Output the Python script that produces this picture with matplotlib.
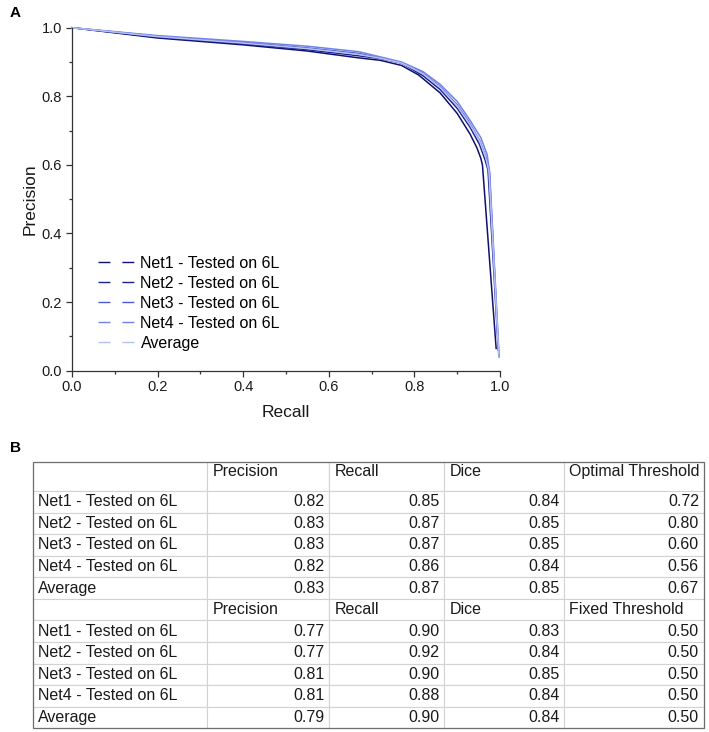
import matplotlib
matplotlib.use("Agg")
import matplotlib.pyplot as plt
from matplotlib.lines import Line2D
from matplotlib.patches import Rectangle
import numpy as np

plt.rcParams['font.family'] = ['Liberation Sans', 'DejaVu Sans']

W, H = 709, 732

# PR curves
series_names = ["Net1 - Tested on 6L", "Net2 - Tested on 6L", "Net3 - Tested on 6L",
                "Net4 - Tested on 6L", "Average"]
series_colors = ["#10106e", "#1a2290", "#4a5bd4", "#7282e6", "#b4bff2"]

recall_net1 = [0, 0.2, 0.4, 0.55, 0.67, 0.72, 0.77, 0.81, 0.86, 0.90, 0.93, 0.946, 0.955, 0.959, 0.991]
precision_net1 = [1.0, 0.970, 0.950, 0.932, 0.912, 0.905, 0.890, 0.862, 0.810, 0.750, 0.690, 0.650, 0.620, 0.600, 0.065]

recall_net2 = [0, 0.2, 0.4, 0.55, 0.67, 0.72, 0.77, 0.82, 0.86, 0.90, 0.93, 0.952, 0.965, 0.972, 0.996]
precision_net2 = [1.0, 0.972, 0.953, 0.936, 0.918, 0.910, 0.897, 0.860, 0.820, 0.765, 0.710, 0.660, 0.615, 0.585, 0.060]

recall_net3 = [0, 0.2, 0.4, 0.55, 0.67, 0.72, 0.77, 0.82, 0.86, 0.90, 0.93, 0.953, 0.968, 0.975, 0.997]
precision_net3 = [1.0, 0.975, 0.957, 0.941, 0.925, 0.912, 0.897, 0.868, 0.828, 0.775, 0.720, 0.670, 0.620, 0.585, 0.050]

recall_net4 = [0, 0.2, 0.4, 0.55, 0.67, 0.72, 0.77, 0.82, 0.86, 0.90, 0.93, 0.955, 0.970, 0.976, 0.998]
precision_net4 = [1.0, 0.977, 0.960, 0.946, 0.930, 0.915, 0.900, 0.872, 0.835, 0.785, 0.730, 0.680, 0.630, 0.575, 0.040]

recall_avg = [0, 0.2, 0.4, 0.55, 0.67, 0.72, 0.77, 0.82, 0.86, 0.90, 0.93, 0.953, 0.967, 0.974, 0.997]
precision_avg = [1.0, 0.974, 0.955, 0.939, 0.922, 0.911, 0.897, 0.866, 0.826, 0.772, 0.717, 0.668, 0.620, 0.582, 0.050]

recalls = [recall_net1, recall_net2, recall_net3, recall_net4, recall_avg]
precisions = [precision_net1, precision_net2, precision_net3, precision_net4, precision_avg]

# table B
row_names = ["Net1 - Tested on 6L", "Net2 - Tested on 6L", "Net3 - Tested on 6L",
             "Net4 - Tested on 6L", "Average"]
header_opt = ["", "Precision", "Recall", "Dice", "Optimal Threshold"]
header_fix = ["", "Precision", "Recall", "Dice", "Fixed Threshold"]
precision_opt = [0.82, 0.83, 0.83, 0.82, 0.83]
recall_opt = [0.85, 0.87, 0.87, 0.86, 0.87]
dice_opt = [0.84, 0.85, 0.85, 0.84, 0.85]
threshold_opt = [0.72, 0.80, 0.60, 0.56, 0.67]
precision_fix = [0.77, 0.77, 0.81, 0.81, 0.79]
recall_fix = [0.90, 0.92, 0.90, 0.88, 0.90]
dice_fix = [0.83, 0.84, 0.85, 0.84, 0.84]
threshold_fix = [0.50, 0.50, 0.50, 0.50, 0.50]


fig = plt.figure(figsize=(W / 100, H / 100), dpi=100)

# ---- panel A ----
ax = fig.add_axes([72 / W, (H - 370.7) / H, 428 / W, 343 / H])
for r, p, c in zip(recalls, precisions, series_colors):
    ax.plot(r, p, color=c, lw=1.1, clip_on=False)

ax.set_xlim(0, 1)
ax.set_ylim(0, 1)
ax.set_xticks(np.arange(0, 1.01, 0.2))
ax.set_yticks(np.arange(0, 1.01, 0.2))
ax.set_xticks(np.arange(0.1, 1.0, 0.2), minor=True)
ax.set_yticks(np.arange(0.1, 1.0, 0.2), minor=True)
for s in ["top", "right"]:
    ax.spines[s].set_visible(False)
for s in ["left", "bottom"]:
    ax.spines[s].set_color("#333333")
    ax.spines[s].set_linewidth(0.9)
ax.tick_params(which="major", direction="out", length=4.3, width=0.9, color="#333333",
               labelsize=10.5, labelcolor="#1a1a1a")
ax.tick_params(axis="x", which="major", pad=2.5)
ax.tick_params(axis="y", which="major", pad=3)
ax.tick_params(which="minor", direction="out", length=2.2, width=0.9, color="#333333")

ax.set_xlabel("Recall", fontsize=12.5, color="#1a1a1a")
ax.set_ylabel("Precision", fontsize=12.5, color="#1a1a1a")
ax.xaxis.set_label_coords(0.5, -0.1)
ax.yaxis.set_label_coords(-0.081, 0.5)

handles = [Line2D([], [], color=c, lw=1.0, dashes=(8.6, 8.6)) for c in series_colors]
ax.legend(handles, series_names, loc="upper left", bbox_to_anchor=(0.06, 0.335),
          frameon=False, fontsize=11.5, handlelength=2.35, handletextpad=0.33,
          labelspacing=0.31, borderpad=0, borderaxespad=0)

fig.text(10 / W, 1 - 13 / H, "A", fontsize=11, fontweight="bold", va="center", ha="left")
fig.text(10 / W, 1 - 448 / H, "B", fontsize=11, fontweight="bold", va="center", ha="left")

# ---- panel B ----
cells = [header_opt]
for i, name in enumerate(row_names):
    cells.append([name, f"{precision_opt[i]:.2f}", f"{recall_opt[i]:.2f}",
                  f"{dice_opt[i]:.2f}", f"{threshold_opt[i]:.2f}"])
cells.append(header_fix)
for i, name in enumerate(row_names):
    cells.append([name, f"{precision_fix[i]:.2f}", f"{recall_fix[i]:.2f}",
                  f"{dice_fix[i]:.2f}", f"{threshold_fix[i]:.2f}"])

tl, tr, tt, tb = 33.3, 704, 461.7, 728.3
tax = fig.add_axes([tl / W, (H - tb) / H, (tr - tl) / W, (tb - tt) / H])
tax.axis("off")
col_w = [174, 122, 115, 120, 139.7]
row_h = [29.3] + [21.6] * 11

tbl = tax.table(cellText=cells, bbox=[0, 0, 1, 1])
tbl.auto_set_font_size(False)
tbl.set_fontsize(11.5)
for (r, c), cell in tbl.get_celld().items():
    cell.set_width(col_w[c])
    cell.set_height(row_h[r])
    cell.set_edgecolor("#d2d2d2")
    cell.set_linewidth(0.8)
    cell.PAD = 5.0 / col_w[c]
    txt = cell.get_text()
    txt.set_color("#1a1a1a")
    header = r in (0, 6)
    if c == 0 or header:
        txt.set_ha("left")
    else:
        txt.set_ha("right")
    if r == 0:
        txt.set_va("baseline")
tax.add_patch(Rectangle((0, 0), 1, 1, transform=tax.transAxes, fill=False,
                        edgecolor="#6e6e6e", lw=0.9, clip_on=False, zorder=5))

fig.savefig("out.png", dpi=100)
